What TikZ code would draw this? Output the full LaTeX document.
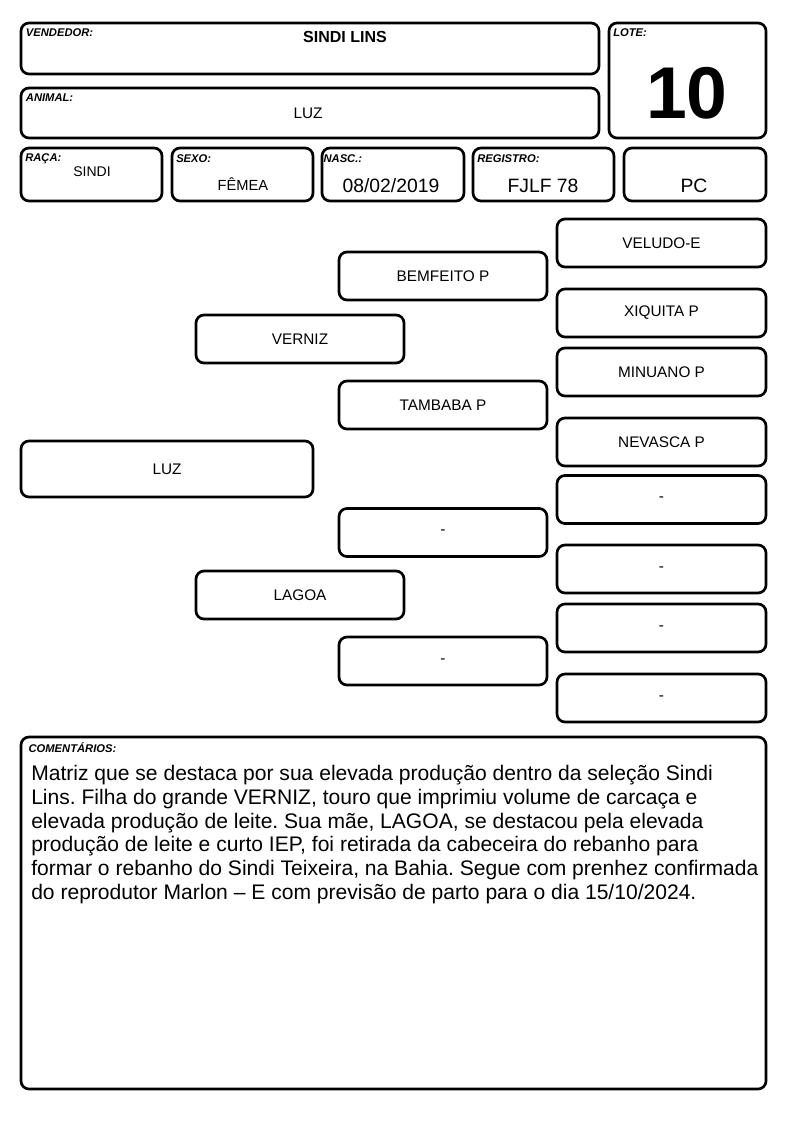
\documentclass[tikz,border=0pt]{standalone}
\usepackage{fontspec}
\setmainfont{Liberation Sans}
\usetikzlibrary{positioning}

\begin{document}
\frenchspacing
\begin{tikzpicture}[x=0.75pt, y=-0.75pt,
    cell/.style={draw, rounded corners=6pt, line width=2pt, inner sep=0pt},
    tag/.style={font=\fontsize{8.4}{9}\selectfont\bfseries\itshape, inner sep=0pt, anchor=north west},
    val/.style={font=\fontsize{11}{13}\selectfont},
    big/.style={font=\fontsize{14.5}{16}\selectfont},
    ped/.style={cell, minimum width=156pt, minimum height=36pt, font=\fontsize{11.5}{13}\selectfont},
]
\useasboundingbox (0,0) rectangle (794,1123);

% Header
\node[cell, minimum width=433.5pt, minimum height=38.25pt] (vendedor) at (310,48.5) {};
\node[cell, minimum width=433.5pt, minimum height=37.5pt] (animal) at (310,113) {};
\node[cell, minimum width=117.75pt, minimum height=86.25pt] (lote) at (687.5,80.5) {};
\node[tag] at ([xshift=4.5pt,yshift=-5pt]vendedor.north west) {VENDEDOR:};
\node[tag] at ([xshift=4.5pt,yshift=-5pt]animal.north west) {ANIMAL:};
\node[tag] at ([xshift=4pt,yshift=-5pt]lote.north west) {LOTE:};
\node[font=\fontsize{12}{14}\selectfont\bfseries] (vendedorval) at (345,37) {SINDI LINS};
\node[val, font=\fontsize{11.5}{13}\selectfont] (animalval) at (308,113) {LUZ};
\node[font=\fontsize{55}{60}\selectfont\bfseries] (loteval) at (687,93) {10};

% Data row
\node[cell, minimum width=105.75pt, minimum height=39.75pt] (raca) at (91.5,174.5) {};
\node[cell, minimum width=105.75pt, minimum height=39.75pt] (sexo) at (242.5,174.5) {};
\node[cell, minimum width=106.5pt, minimum height=39.75pt] (nasc) at (393,174.5) {};
\node[cell, minimum width=105.75pt, minimum height=39.75pt] (registro) at (543.5,174.5) {};
\node[cell, minimum width=106.5pt, minimum height=39.75pt] (pc) at (695,174.5) {};
\node[tag] at ([xshift=4pt,yshift=-5pt]raca.north west) {RAÇA:};
\node[tag] at ([xshift=4pt,yshift=-6pt]sexo.north west) {SEXO:};
\node[tag] at ([xshift=2pt,yshift=-6pt]nasc.north west) {NASC.:};
\node[tag] at ([xshift=4pt,yshift=-6pt]registro.north west) {REGISTRO:};
\node[val, font=\fontsize{10.5}{12}\selectfont] (racaval) at (92,172) {SINDI};
\node[val] (sexoval) at (243,184) {FÊMEA};
\node[big] (nascval) at (391,186) {08/02/2019};
\node[big] (registroval) at (543,186) {FJLF 78};
\node[big] (pcval) at (694,186) {PC};

% Pedigree
\node[cell, minimum width=219pt, minimum height=42pt, font=\fontsize{11.5}{13}\selectfont] (luz) at (167,469) {LUZ};
\node[ped] (p) at (300,339) {VERNIZ};
\node[ped] (m) at (300,595) {LAGOA};
\node[ped] (pp) at (443,276) {BEMFEITO P};
\node[ped] (pm) at (443,405) {TAMBABA P};
\node[ped] (mp) at (443,532.5) {-};
\node[ped] (mm) at (443,661) {-};
\node[ped, minimum width=156.75pt] (ppp) at (661.5,243) {VELUDO-E};
\node[ped, minimum width=156.75pt] (ppm) at (661.5,313) {XIQUITA P};
\node[ped, minimum width=156.75pt] (pmp) at (661.5,372) {MINUANO P};
\node[ped, minimum width=156.75pt] (pmm) at (661.5,442) {NEVASCA P};
\node[ped, minimum width=156.75pt] (mpp) at (661.5,499.5) {-};
\node[ped, minimum width=156.75pt] (mpm) at (661.5,569) {-};
\node[ped, minimum width=156.75pt] (mmp) at (661.5,628) {-};
\node[ped, minimum width=156.75pt] (mmm) at (661.5,698) {-};

% Comments
\node[cell, minimum width=558.75pt, minimum height=264pt] (coment) at (393.5,913) {};
\node[tag] at ([xshift=6.5pt,yshift=-5pt]coment.north west) {COMENTÁRIOS:};
\node[anchor=north west, inner sep=0pt, align=left, font=\fontsize{15.8}{17.8}\selectfont] (comenttxt) at (31,765)
  {Matriz que se destaca por sua elevada produção dentro da seleção Sindi\\
   Lins. Filha do grande VERNIZ, touro que imprimiu volume de carcaça e\\
   elevada produção de leite. Sua mãe, LAGOA, se destacou pela elevada\\
   produção de leite e curto IEP, foi retirada da cabeceira do rebanho para\\
   formar o rebanho do Sindi Teixeira, na Bahia. Segue com prenhez confirmada\\
   do reprodutor Marlon – E com previsão de parto para o dia 15/10/2024.};
\end{tikzpicture}
\end{document}
